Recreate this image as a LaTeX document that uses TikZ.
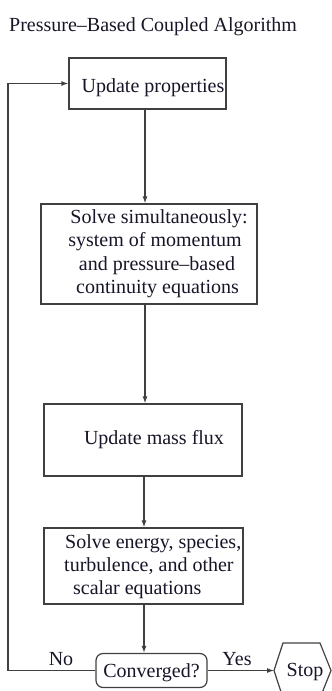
\documentclass[tikz,border=0pt]{standalone}
\usepackage{fontspec}
\setmainfont{Liberation Serif}
\usetikzlibrary{arrows.meta}
\definecolor{ink}{RGB}{22,22,40}
\definecolor{edgec}{RGB}{64,64,64}
\begin{document}
\begin{tikzpicture}[x=1pt,y=-1pt,
  txt/.style={font=\fontsize{20}{24}\selectfont, text=ink, inner sep=0pt, anchor=base},
  box/.style={draw=edgec, line width=1.2pt, fill=white, inner sep=0pt},
  flow/.style={draw=edgec, line width=1.2pt, -{Latex[length=7pt,width=5pt]}},
  plain/.style={draw=edgec, line width=1.2pt}]
\useasboundingbox (0,0) rectangle (332,691);
% title
\node[txt, anchor=base west] (title) at (9,31) {Pressure–Based Coupled Algorithm};
% boxes
\node[box, minimum width=157pt, minimum height=51pt] (b1) at (147.5,83.5) {};
\node[box, minimum width=216pt, minimum height=100pt] (b2) at (149,254) {};
\node[box, minimum width=198pt, minimum height=72pt] (b3) at (143,440) {};
\node[box, minimum width=199pt, minimum height=76pt] (b4) at (143.5,566) {};
\node[box, rounded corners=7pt, minimum width=111pt, minimum height=34pt] (conv) at (151.5,670.5) {};
% stop hexagon
\coordinate (stopL) at (274,670.5);
\draw[plain, line join=miter] (stopL) -- (283,643) -- (320,643) -- (331,670.5) -- (320,698) -- (283,698) -- cycle;
% texts
\node[txt] (t1) at (153,92) {Update properties};
\node[txt] (t2a) at (159,223) {Solve simultaneously:};
\node[txt] (t2b) at (155,246.5) {system of momentum};
\node[txt] (t2c) at (157,270) {and pressure–based};
\node[txt] (t2d) at (157.5,293) {continuity equations};
\node[txt] (t3) at (154,444) {Update mass flux};
\node[txt, anchor=base west] (t4a) at (65,548) {Solve energy, species,};
\node[txt, anchor=base west] (t4b) at (64,571) {turbulence, and other};
\node[txt, anchor=base west] (t4c) at (73,594) {scalar equations};
\node[txt] (tc) at (151.5,677) {Converged?};
\node[txt] (tstop) at (305,676) {Stop};
\node[txt] (tno) at (61,665) {No};
\node[txt] (tyes) at (237,665) {Yes};
% connectors
\coordinate (ax) at (145,0);
\coordinate (ax2) at (144,0);
\coordinate (loopx) at (8,0);
\draw[flow] (b1.south -| ax) -- (b2.north -| ax);
\draw[flow] (b2.south -| ax) -- (b3.north -| ax);
\draw[flow] (b3.south -| ax2) -- (b4.north -| ax2);
\draw[flow] (b4.south -| ax2) -- (conv.north -| ax2);
\draw[flow] (conv.east) -- (stopL);
\draw[flow] (conv.west) -- (conv.west -| loopx) |- (b1.west);
\end{tikzpicture}
\end{document}
